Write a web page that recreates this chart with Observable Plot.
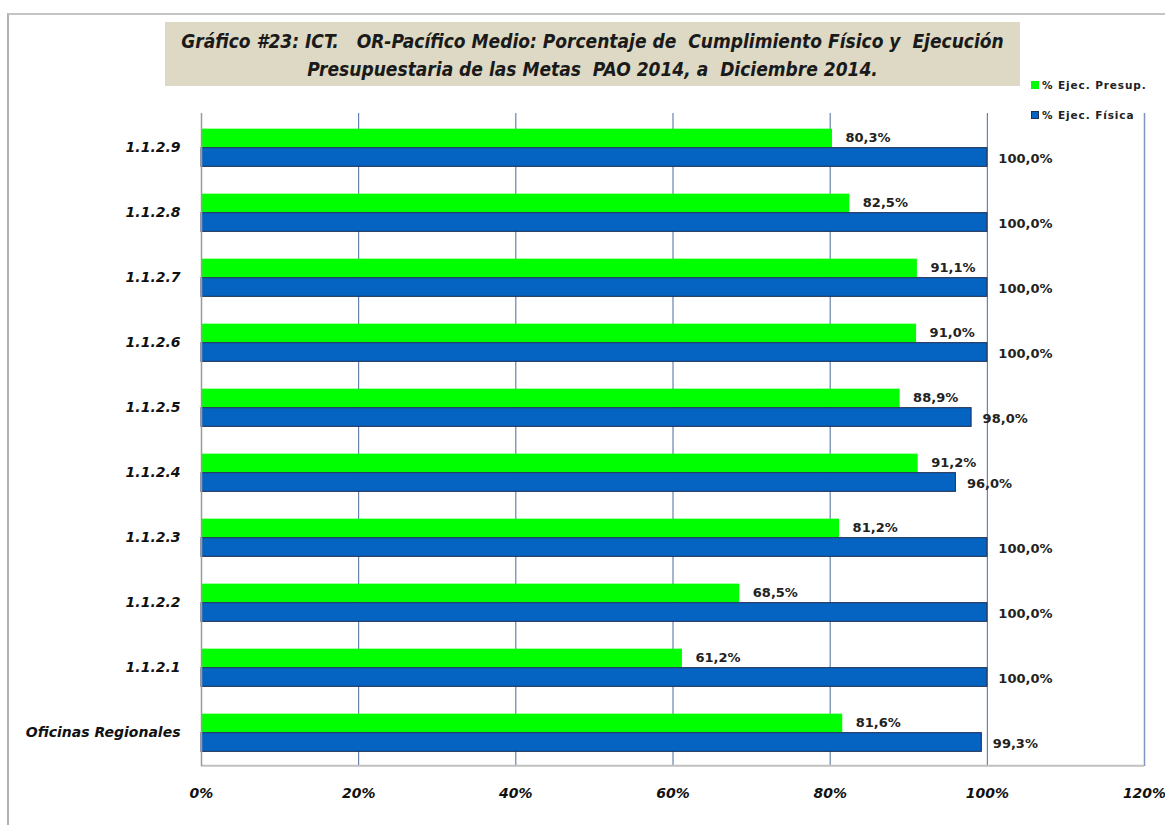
<!DOCTYPE html>
<html>
<head>
<meta charset="utf-8">
<script src="https://cdn.jsdelivr.net/npm/d3@7"></script>
<script src="https://cdn.jsdelivr.net/npm/@observablehq/plot@0.6"></script>
<style>
  html, body { margin: 0; padding: 0; background: #fff; overflow: hidden; }
  #wrap { position: relative; width: 1165px; height: 825px; overflow: hidden; }
  #frame { position: absolute; left: 7px; top: 13px; width: 1200px; height: 900px;
           border-left: 2px solid #b0b0b0; border-top: 2px solid #c4c4c4; box-sizing: border-box; }
  #title { position: absolute; left: 165px; top: 22px; width: 855px; height: 64px; background: #ddd9c4;
           font-family: "Liberation Sans Narrow", "DejaVu Sans Condensed", sans-serif; font-weight: bold; font-style: italic;
           font-size: 19px; line-height: 28px; color: #1a1a1a; text-align: center; padding-top: 5px; box-sizing: border-box; white-space: pre; }
  #legend { position: absolute; left: 1031px; top: 77px; font-family: "DejaVu Sans", sans-serif; font-weight: bold;
            font-size: 10.5px; letter-spacing: 0.9px; color: #222; }
  #legend .row { display: flex; align-items: center; height: 16px; }
  #legend .row + .row { margin-top: 14px; }
  #legend .sw { width: 8px; height: 8px; margin-right: 3px; box-sizing: border-box; }
  #chart { position: absolute; left: 0; top: 0; }
</style>
</head>
<body>
<div id="wrap">
  <div id="frame"></div>
  <div id="chart"></div>
  <div id="title">Gráfico #23: ICT.   OR-Pacífico Medio: Porcentaje de  Cumplimiento Físico y  Ejecución
Presupuestaria de las Metas  PAO 2014, a  Diciembre 2014.</div>
  <div id="legend">
    <div class="row"><div class="sw" style="background:#00ff00"></div>% Ejec. Presup.</div>
    <div class="row"><div class="sw" style="background:#0563c1;border:1px solid #1f2f55"></div>% Ejec. Física</div>
  </div>
</div>
<script>
const categories = ["1.1.2.9","1.1.2.8","1.1.2.7","1.1.2.6","1.1.2.5","1.1.2.4","1.1.2.3","1.1.2.2","1.1.2.1","Oficinas Regionales"];
const presup = [80.3, 82.5, 91.1, 91.0, 88.9, 91.2, 81.2, 68.5, 61.2, 81.6];
const fisica = [100.0, 100.0, 100.0, 100.0, 98.0, 96.0, 100.0, 100.0, 100.0, 99.3];
const xTicks = [0, 20, 40, 60, 80, 100, 120];
const seriesNames = ["% Ejec. Presup.", "% Ejec. Física"];

const rows = categories.map((c, i) => ({cat: c, presup: presup[i], fisica: fisica[i]}));
const fmt = v => v.toFixed(1).replace(".", ",") + "%";

const W = 1165, H = 825, mT = 113, mB = 59;
const band = (H - mT - mB) / categories.length;
const barH = 19;

const chart = Plot.plot({
  width: W, height: H,
  marginLeft: 201, marginRight: 21, marginTop: mT, marginBottom: mB,
  style: {background: "transparent", fontFamily: "DejaVu Sans, sans-serif", color: "#111"},
  x: {domain: [0, 120], axis: null},
  y: {domain: categories, padding: 0, axis: null},
  marks: [
    Plot.ruleX(xTicks.filter(d => d > 0 && d < 120), {stroke: "#4a6a9c", strokeWidth: 1}),
    Plot.ruleX([120], {stroke: "#8096c0", strokeWidth: 1.5}),
    Plot.ruleY([categories[categories.length - 1]], {dy: band / 2, stroke: "#c0c0c0", strokeWidth: 2}),
    Plot.barX(rows, {y: "cat", x: "presup", fill: "#00ff00",
      insetTop: band / 2 - barH, insetBottom: band / 2}),
    Plot.barX(rows, {y: "cat", x: "fisica", fill: "#0563c1", stroke: "#1c2d52", strokeWidth: 1,
      insetTop: band / 2, insetBottom: band / 2 - barH}),
    Plot.ruleX([0], {stroke: "#9a9a9a", strokeWidth: 1.5}),
    Plot.text(rows, {y: "cat", x: "presup", text: d => fmt(d.presup), textAnchor: "start", dx: 13, dy: -barH / 2 - 1,
      fontSize: 13, fontWeight: "bold", fill: "#222"}),
    Plot.text(rows, {y: "cat", x: "fisica", text: d => fmt(d.fisica), textAnchor: "start", dx: 11, dy: barH / 2 + 1,
      fontSize: 13, fontWeight: "bold", fill: "#222"}),
    Plot.axisY({tickSize: 0, tickPadding: 21, fontSize: 14, fontWeight: "bold", fontStyle: "italic", fill: "#111", label: null}),
    Plot.axisX(xTicks, {anchor: "bottom", tickSize: 0, tickPadding: 22, tickFormat: d => d + "%", fontSize: 14,
      fontWeight: "bold", fontStyle: "italic", fill: "#111", label: null})
  ]
});
document.getElementById("chart").appendChild(chart);
</script>
</body>
</html>
